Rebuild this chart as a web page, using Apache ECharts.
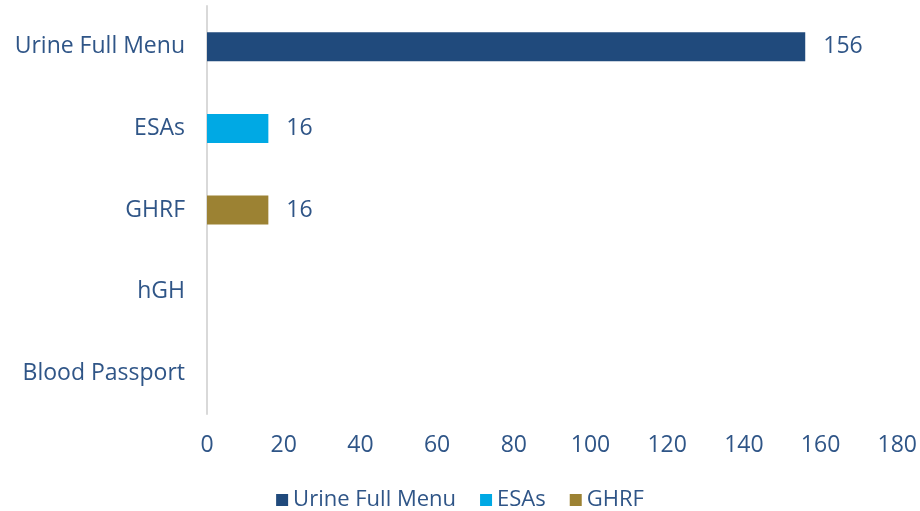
<html>
<head>
    <meta charset="utf-8">
    <title>Tests by type</title>
    <script src="https://cdn.jsdelivr.net/npm/echarts@6/dist/echarts.min.js"></script>
    <style>
        body { margin: 0; background: #fff; }
    </style>
</head>
<body>

<div id="main" style="width: 920px;height:511px;"></div>

<script type="text/javascript">

    // categories, top to bottom
    var categories = ['Urine Full Menu', 'ESAs', 'GHRF', 'hGH', 'Blood Passport'];
    var xTicks = [0, 20, 40, 60, 80, 100, 120, 140, 160, 180];

    // each series only has a value in its own row
    var urineValues = [156, null, null, null, null];
    var esasValues  = [null, 16, null, null, null];
    var ghrfValues  = [null, null, 16, null, null];

    var textColor = '#2f5587';
    var fontName = 'Open Sans';

    var myChart = echarts.init(document.getElementById('main'));

    function makeSeries(name, values, color) {
        return {
            name: name,
            type: 'bar',
            stack: 'all',
            barWidth: 29,
            data: values,
            itemStyle: { color: color },
            label: {
                show: true,
                position: 'right',
                distance: 18,
                color: textColor,
                fontFamily: fontName,
                fontSize: 23
            }
        };
    }

    var option = {
        animation: false,
        textStyle: { fontFamily: fontName },
        legend: {
            bottom: -5,
            left: 'center',
            itemWidth: 12,
            itemHeight: 12,
            itemGap: 24,
            icon: 'rect',
            textStyle: { color: textColor, fontSize: 22, fontFamily: fontName },
            data: ['Urine Full Menu', 'ESAs', 'GHRF']
        },
        grid: {
            left: 207,
            right: 22,
            top: 6,
            bottom: 97,
            containLabel: false
        },
        xAxis: {
            type: 'value',
            min: xTicks[0],
            max: xTicks[xTicks.length - 1],
            interval: 20,
            splitLine: { show: false },
            axisLine: { show: false },
            axisTick: { show: false },
            axisLabel: {
                color: textColor,
                fontSize: 23,
                fontFamily: fontName,
                margin: 20
            }
        },
        yAxis: {
            type: 'category',
            inverse: true,
            data: categories,
            axisLine: { show: true, lineStyle: { color: '#d9d9d9', width: 2 } },
            axisTick: { show: false },
            axisLabel: {
                color: textColor,
                fontSize: 23,
                fontFamily: fontName,
                margin: 22
            }
        },
        series: [
            makeSeries('Urine Full Menu', urineValues, '#204a7c'),
            makeSeries('ESAs', esasValues, '#00a9e4'),
            makeSeries('GHRF', ghrfValues, '#9c8233')
        ]
    };

    myChart.setOption(option);

</script>
</body>
</html>
